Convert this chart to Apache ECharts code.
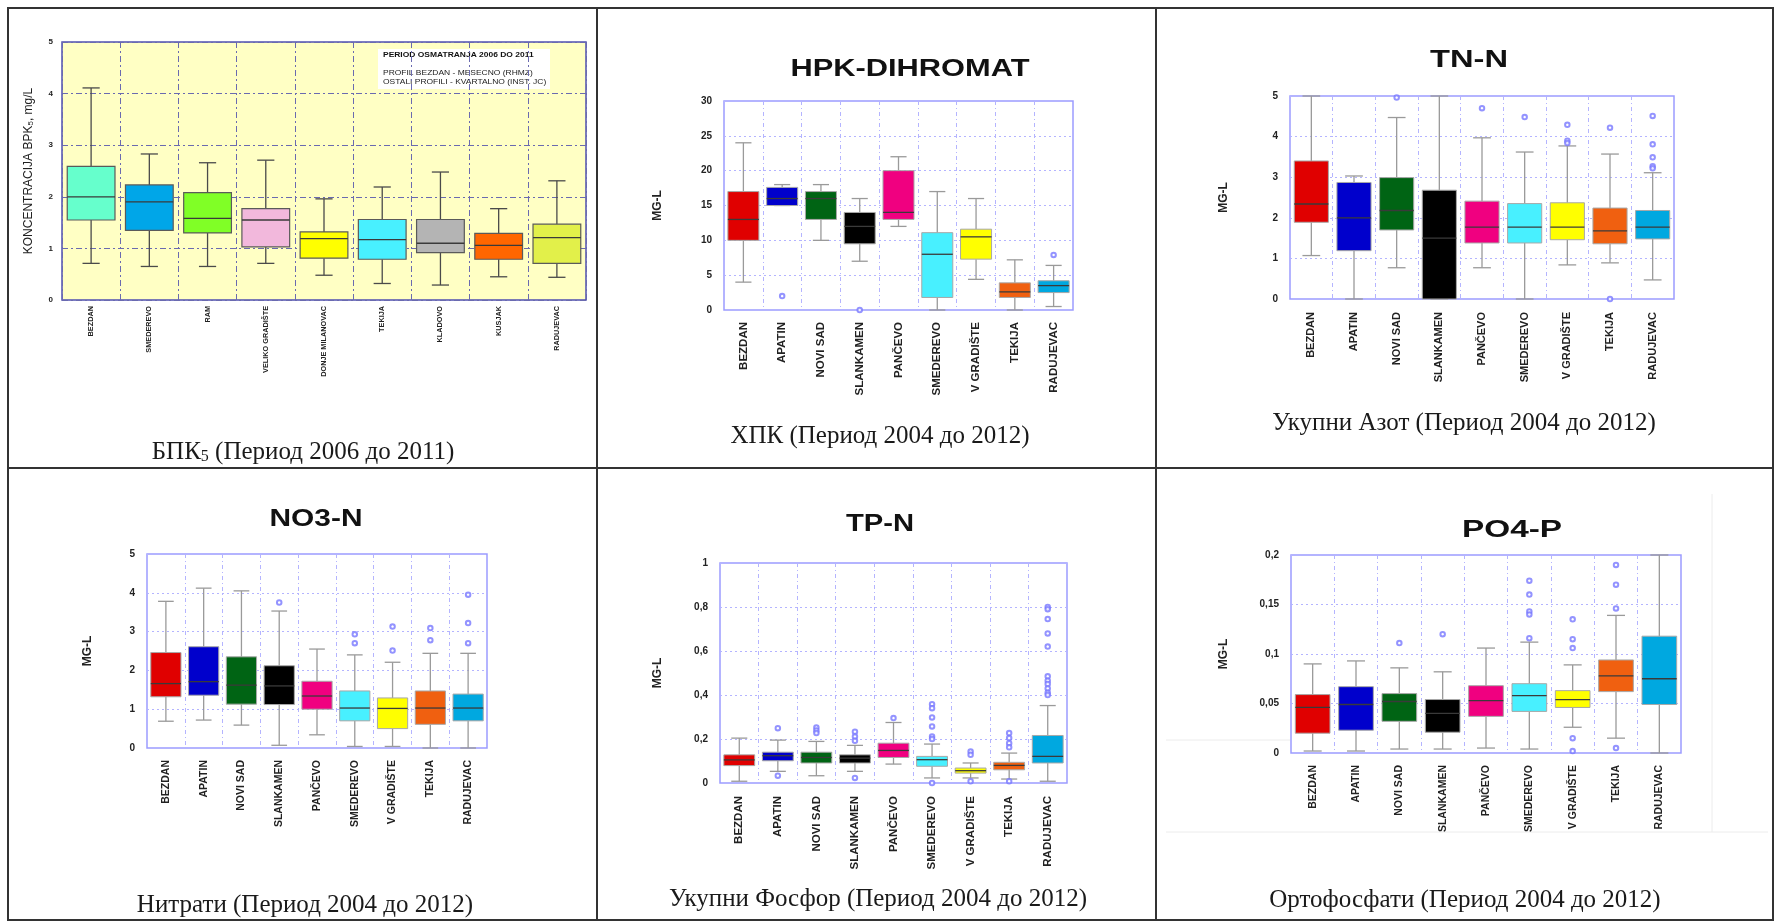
<!DOCTYPE html>
<html>
<head>
<meta charset="utf-8">
<script src="https://cdn.jsdelivr.net/npm/echarts@6/dist/echarts.min.js"></script>
<style>
html, body { margin: 0; padding: 0; background: #fff; }
#main { width: 1775px; height: 921px; }
</style>
</head>
<body>
<div id="main"></div>
<script>
// BPK5 panel (period 2006-2011)
var bpkStations = ['BEZDAN', 'SMEDEREVO', 'RAM', 'VELIKO GRADIŠTE', 'DONJE MILANOVAC', 'TEKIJA', 'KLADOVO', 'KUSJAK', 'RADUJEVAC'];
// [min, Q1, median, Q3, max]
var bpkBoxes = [
  [0.71, 1.55, 2.00, 2.59, 4.11],
  [0.65, 1.35, 1.90, 2.23, 2.83],
  [0.65, 1.30, 1.58, 2.08, 2.66],
  [0.71, 1.03, 1.55, 1.77, 2.71],
  [0.48, 0.81, 1.19, 1.32, 1.96],
  [0.32, 0.79, 1.17, 1.56, 2.19],
  [0.29, 0.92, 1.10, 1.56, 2.48],
  [0.45, 0.79, 1.06, 1.29, 1.77],
  [0.44, 0.71, 1.21, 1.47, 2.31]
];
var bpkCounts = [78, 23, 23, 23, 21, 23, 23, 22, 23];
var bpkTicks = [0, 1, 2, 3, 4, 5];

// stations for the other five panels (period 2004-2012)
var danubeStations = ['BEZDAN', 'APATIN', 'NOVI SAD', 'SLANKAMEN', 'PANČEVO', 'SMEDEREVO', 'V GRADIŠTE', 'TEKIJA', 'RADUJEVAC'];

var hpkBoxes = [
  [4, 10, 13, 17, 24],
  [15, 15, 16, 17.6, 18],
  [10, 13, 16, 17, 18],
  [7, 9.5, 12, 14, 16],
  [12, 13, 14, 20, 22],
  [0, 1.8, 8, 11.1, 17],
  [4.4, 7.3, 10.5, 11.6, 16],
  [0, 1.8, 2.6, 3.9, 7.2],
  [0.5, 2.5, 3.5, 4.2, 6.4]
];
var hpkOutliers = [[], [2], [], [0], [], [], [], [], [7.9]];
var hpkTicks = [0, 5, 10, 15, 20, 25, 30];

var tnBoxes = [
  [1.07, 1.89, 2.34, 3.40, 5.0],
  [0, 1.19, 2.0, 2.87, 3.03],
  [0.77, 1.70, 2.18, 2.99, 4.47],
  [0, 0, 1.5, 2.68, 5.0],
  [0.77, 1.38, 1.77, 2.41, 3.97],
  [0, 1.38, 1.77, 2.35, 3.62],
  [0.84, 1.46, 1.77, 2.37, 3.77],
  [0.89, 1.36, 1.68, 2.24, 3.57],
  [0.47, 1.48, 1.77, 2.18, 3.11]
];
var tnOutliers = [[], [], [4.96], [], [4.70], [4.48], [4.29, 3.90, 3.84], [4.22, 0], [4.51, 3.81, 3.49, 3.27, 3.22]];
var tnTicks = [0, 1, 2, 3, 4, 5];

var no3Boxes = [
  [0.69, 1.32, 1.66, 2.46, 3.78],
  [0.72, 1.36, 1.71, 2.61, 4.12],
  [0.59, 1.13, 1.62, 2.35, 4.05],
  [0.07, 1.12, 1.60, 2.12, 3.53],
  [0.34, 1.00, 1.34, 1.72, 2.55],
  [0.04, 0.70, 1.03, 1.47, 2.40],
  [0.04, 0.50, 1.02, 1.29, 2.21],
  [0, 0.61, 1.03, 1.47, 2.44],
  [0, 0.70, 1.03, 1.39, 2.44]
];
var no3Outliers = [[], [], [], [3.75], [], [2.93, 2.70], [3.13, 2.51], [3.09, 2.78], [3.95, 3.22, 2.70]];
var no3Ticks = [0, 1, 2, 3, 4, 5];

var tpBoxes = [
  [0.008, 0.079, 0.105, 0.128, 0.204],
  [0.053, 0.101, 0.124, 0.140, 0.195],
  [0.033, 0.091, 0.116, 0.140, 0.189],
  [0.053, 0.091, 0.113, 0.128, 0.171],
  [0.086, 0.116, 0.148, 0.181, 0.275],
  [0.023, 0.076, 0.106, 0.121, 0.177],
  [0.023, 0.045, 0.056, 0.068, 0.091],
  [0.018, 0.060, 0.080, 0.094, 0.136],
  [0.008, 0.091, 0.121, 0.216, 0.352]
];
var tpOutliers = [
  [],
  [0.249, 0.033],
  [0.252, 0.239, 0.227],
  [0.233, 0.211, 0.192, 0.023],
  [0.295],
  [0.358, 0.340, 0.298, 0.257, 0.211, 0.200, 0],
  [0.143, 0.128, 0.008],
  [0.227, 0.204, 0.181, 0.162, 0.008],
  [0.80, 0.79, 0.745, 0.68, 0.62, 0.485, 0.465, 0.45, 0.43, 0.41, 0.40]
];
var tpTicks = [0, 0.2, 0.4, 0.6, 0.8, 1];

var po4Boxes = [
  [0.002, 0.020, 0.046, 0.059, 0.090],
  [0.002, 0.023, 0.049, 0.067, 0.093],
  [0.004, 0.032, 0.052, 0.060, 0.086],
  [0.004, 0.021, 0.040, 0.054, 0.082],
  [0.005, 0.037, 0.053, 0.068, 0.106],
  [0.004, 0.042, 0.058, 0.070, 0.112],
  [0.026, 0.046, 0.054, 0.063, 0.089],
  [0.015, 0.062, 0.078, 0.094, 0.139],
  [0, 0.049, 0.075, 0.118, 0.2]
];
var po4Outliers = [[], [], [0.111], [0.120], [], [0.174, 0.160, 0.143, 0.140, 0.116], [0.135, 0.115, 0.106, 0.015, 0.002], [0.190, 0.170, 0.146, 0.005], []];
var po4Ticks = [0, 0.05, 0.1, 0.15, 0.2];

var bpkColors = ['#66ffcc', '#00a6e8', '#80ff26', '#f2b8dc', '#ffff00', '#48f0ff', '#b4b4b4', '#ff6600', '#e2f04a'];
var danubeColors = ['#e00000', '#0000cc', '#006414', '#000000', '#f00080', '#48f0ff', '#ffff00', '#f06010', '#00a8e0'];

var panels = [
  { stations: bpkStations, boxes: bpkBoxes, outliers: null, ticks: bpkTicks, colors: bpkColors,
    grid: { left: 62, top: 42, width: 524, height: 258 }, labelSize: 7.3, labelGap: 6, yName: '', old: true },
  { stations: danubeStations, boxes: hpkBoxes, outliers: hpkOutliers, ticks: hpkTicks, colors: danubeColors,
    grid: { left: 724, top: 101, width: 349, height: 209 }, labelSize: 11.5, labelGap: 12, yName: 'MG-L', nameGap: 60 },
  { stations: danubeStations, boxes: tnBoxes, outliers: tnOutliers, ticks: tnTicks, colors: danubeColors,
    grid: { left: 1290, top: 96, width: 384, height: 203 }, labelSize: 11, labelGap: 13, yName: 'MG-L', nameGap: 60 },
  { stations: danubeStations, boxes: no3Boxes, outliers: no3Outliers, ticks: no3Ticks, colors: danubeColors,
    grid: { left: 147, top: 554, width: 340, height: 194 }, labelSize: 10.5, labelGap: 12, yName: 'MG-L', nameGap: 53 },
  { stations: danubeStations, boxes: tpBoxes, outliers: tpOutliers, ticks: tpTicks, colors: danubeColors,
    grid: { left: 720, top: 563, width: 347, height: 220 }, labelSize: 11.5, labelGap: 13, yName: 'MG-L', nameGap: 56 },
  { stations: danubeStations, boxes: po4Boxes, outliers: po4Outliers, ticks: po4Ticks, colors: danubeColors,
    grid: { left: 1291, top: 555, width: 390, height: 198 }, labelSize: 10.5, labelGap: 12, yName: 'MG-L', nameGap: 61 }
];

var sansFont = '"Liberation Sans", Arial, sans-serif';
var serifFont = '"Liberation Serif", "Times New Roman", serif';

function commaLabel(v) {
  return String(+v.toFixed(3)).replace('.', ',');
}

// box + whiskers with short caps, drawn through the axis scales
function makeBoxRenderer(colors, old) {
  var whiskerColor = old ? '#4a4a4a' : '#9a9a9a';
  var boxStroke = old ? '#5a5a5a' : '#a8a8a8';
  var medianColor = old ? '#3a3a3a' : '#3a3a3a';
  return function (params, api) {
    var idx = api.value(0);
    var pMin = api.coord([idx, api.value(1)]);
    var pQ1 = api.coord([idx, api.value(2)]);
    var pMed = api.coord([idx, api.value(3)]);
    var pQ3 = api.coord([idx, api.value(4)]);
    var pMax = api.coord([idx, api.value(5)]);
    var band = api.size([1, 0])[0];
    var bw = band * (old ? 0.82 : 0.8);
    var cw = bw * (old ? 0.18 : 0.26);
    var cx = pQ1[0];
    var lineStyle = { stroke: whiskerColor, lineWidth: old ? 1.3 : 1.3 };
    return {
      type: 'group',
      children: [
        { type: 'line', shape: { x1: cx, y1: pQ3[1], x2: cx, y2: pMax[1] }, style: lineStyle },
        { type: 'line', shape: { x1: cx, y1: pQ1[1], x2: cx, y2: pMin[1] }, style: lineStyle },
        { type: 'line', shape: { x1: cx - cw, y1: pMax[1], x2: cx + cw, y2: pMax[1] }, style: lineStyle },
        { type: 'line', shape: { x1: cx - cw, y1: pMin[1], x2: cx + cw, y2: pMin[1] }, style: lineStyle },
        { type: 'rect', shape: { x: cx - bw / 2, y: pQ3[1], width: bw, height: pQ1[1] - pQ3[1] },
          style: { fill: colors[idx], stroke: boxStroke, lineWidth: old ? 1.2 : 1 } },
        { type: 'line', shape: { x1: cx - bw / 2, y1: pMed[1], x2: cx + bw / 2, y2: pMed[1] },
          style: { stroke: medianColor, lineWidth: 1.3 } }
      ]
    };
  };
}

var grids = [], xAxes = [], yAxes = [], series = [];

panels.forEach(function (p, i) {
  grids.push({
    left: p.grid.left, top: p.grid.top, width: p.grid.width, height: p.grid.height,
    show: true,
    backgroundColor: p.old ? '#ffffc4' : 'transparent',
    borderColor: p.old ? '#5050b0' : '#9c9cff',
    borderWidth: 1.5
  });
  xAxes.push({
    type: 'category',
    gridIndex: i,
    data: p.stations,
    boundaryGap: true,
    axisLine: { show: false },
    axisTick: { show: false },
    axisLabel: {
      interval: 0, rotate: 90, margin: p.labelGap,
      fontSize: p.labelSize, fontWeight: 'bold', color: '#222', fontFamily: sansFont
    },
    splitLine: {
      show: true, interval: 0,
      lineStyle: { color: p.old ? '#6a6ab0' : '#b4b4ff', width: 1, type: p.old ? [6, 3, 2, 3] : [4, 3, 1, 3] }
    }
  });
  var step = p.ticks[1] - p.ticks[0];
  yAxes.push({
    type: 'value',
    gridIndex: i,
    min: p.ticks[0],
    max: p.ticks[p.ticks.length - 1],
    interval: step,
    axisLine: { show: false },
    axisTick: { show: false },
    axisLabel: {
      margin: p.old ? 9 : 12,
      fontSize: p.old ? 8 : 10, fontWeight: 'bold', color: '#222', fontFamily: sansFont,
      formatter: commaLabel
    },
    splitLine: {
      show: true,
      lineStyle: { color: p.old ? '#6a6ab0' : '#b4b4ff', width: 1, type: p.old ? [6, 3, 2, 3] : [2, 3] }
    },
    name: p.old ? 'KONCENTRACIJA BPK{s|5}, mg/L' : p.yName,
    nameLocation: 'middle',
    nameRotate: 90,
    nameGap: p.old ? 27 : p.nameGap,
    nameTextStyle: {
      fontSize: p.old ? 12 : 12, fontWeight: p.old ? 'normal' : 'bold', color: '#222', fontFamily: sansFont,
      rich: { s: { fontSize: 8, verticalAlign: 'bottom', color: '#222' } }
    }
  });
  series.push({
    type: 'custom',
    xAxisIndex: i,
    yAxisIndex: i,
    renderItem: makeBoxRenderer(p.colors, p.old),
    encode: { x: 0, y: [1, 2, 3, 4, 5] },
    silent: true,
    data: p.boxes.map(function (b, j) { return [j].concat(b); })
  });
  if (p.outliers) {
    var pts = [];
    p.outliers.forEach(function (list, j) {
      list.forEach(function (v) { pts.push([p.stations[j], v]); });
    });
    series.push({
      type: 'scatter',
      xAxisIndex: i,
      yAxisIndex: i,
      symbol: 'emptyCircle',
      symbolSize: 4.5,
      itemStyle: { color: '#7878ff', borderWidth: 1 },
      emphasis: { disabled: true },
      data: pts
    });
  }
  if (p.old) {
    series.push({
      type: 'scatter',
      xAxisIndex: i,
      yAxisIndex: i,
      symbol: 'circle',
      symbolSize: 1,
      itemStyle: { opacity: 0 },
      label: {
        show: true, position: 'top', distance: 3,
        fontSize: 7, fontWeight: 'bold', color: '#222', fontFamily: sansFont,
        formatter: function (prm) { return 'n = ' + bpkCounts[prm.dataIndex]; }
      },
      emphasis: { disabled: true },
      data: bpkBoxes.map(function (b, j) { return [bpkStations[j], b[4]]; })
    });
  }
});

function titleText(txt, x, y, sx) {
  return {
    type: 'text', x: x, y: y, scaleX: sx, silent: true,
    style: {
      text: txt, font: 'bold 23px ' + sansFont, fill: '#111',
      align: 'center', verticalAlign: 'middle', textAlign: 'center', textVerticalAlign: 'middle'
    }
  };
}
function captionText(txt, x, y) {
  return {
    type: 'text', x: x, y: y, silent: true,
    style: {
      text: txt, font: '25px ' + serifFont, fill: '#1a1a1a',
      align: 'center', verticalAlign: 'middle', textAlign: 'center', textVerticalAlign: 'middle',
      rich: {
        a: { font: '25px ' + serifFont, fill: '#1a1a1a', color: '#1a1a1a' },
        s: { font: '16px ' + serifFont, fill: '#1a1a1a', color: '#1a1a1a', verticalAlign: 'bottom' }
      }
    }
  };
}
function line(x1, y1, x2, y2, color, w) {
  return { type: 'line', silent: true, shape: { x1: x1, y1: y1, x2: x2, y2: y2 }, style: { stroke: color, lineWidth: w } };
}

var graphics = [
  // faint leftover frame around the last picture
  line(1712, 494, 1712, 832, '#ececec', 1),
  line(1166, 832, 1768, 832, '#ececec', 1),
  line(1166, 740, 1290, 740, '#ececec', 1),
  // table
  { type: 'rect', silent: true, shape: { x: 8, y: 8, width: 1765, height: 912 }, style: { fill: 'none', stroke: '#333', lineWidth: 2 } },
  line(597, 8, 597, 920, '#333', 2),
  line(1156, 8, 1156, 920, '#333', 2),
  line(8, 468, 1773, 468, '#333', 2),
  // legend box in the BPK5 picture
  { type: 'rect', silent: true, shape: { x: 378, y: 49, width: 172, height: 40 }, style: { fill: '#ffffff', stroke: 'none' } },
  { type: 'text', x: 383, y: 55, scaleX: 1.3, silent: true,
    style: { text: 'PERIOD OSMATRANJA 2006 DO 2011', font: 'bold 6.5px ' + sansFont, fill: '#111', verticalAlign: 'middle', textVerticalAlign: 'middle' } },
  { type: 'text', x: 383, y: 73, scaleX: 1.3, silent: true,
    style: { text: 'PROFIL BEZDAN - MESECNO (RHMZ)', font: '6.5px ' + sansFont, fill: '#222', verticalAlign: 'middle', textVerticalAlign: 'middle' } },
  { type: 'text', x: 383, y: 82, scaleX: 1.3, silent: true,
    style: { text: 'OSTALI PROFILI - KVARTALNO (INST. JC)', font: '6.5px ' + sansFont, fill: '#222', verticalAlign: 'middle', textVerticalAlign: 'middle' } },
  // chart titles
  titleText('HPK-DIHROMAT', 910, 70, 1.34),
  titleText('TN-N', 1469, 61, 1.42),
  titleText('NO3-N', 316, 520, 1.3),
  titleText('TP-N', 880, 525, 1.27),
  titleText('PO4-P', 1512, 531, 1.45),
  // captions under the pictures
  captionText('{a|БПК}{s|5}{a| (Период 2006 до 2011)}', 303, 452),
  captionText('ХПК (Период 2004 до 2012)', 880, 436),
  captionText('Укупни Азот (Период 2004 до 2012)', 1464, 423),
  captionText('Нитрати (Период 2004 до 2012)', 305, 905),
  captionText('Укупни Фосфор (Период 2004 до 2012)', 878, 899),
  captionText('Ортофосфати (Период 2004 до 2012)', 1465, 900)
];

var chart = echarts.init(document.getElementById('main'));
chart.setOption({
  animation: false,
  backgroundColor: '#ffffff',
  grid: grids,
  xAxis: xAxes,
  yAxis: yAxes,
  series: series,
  graphic: graphics
});
</script>
</body>
</html>
